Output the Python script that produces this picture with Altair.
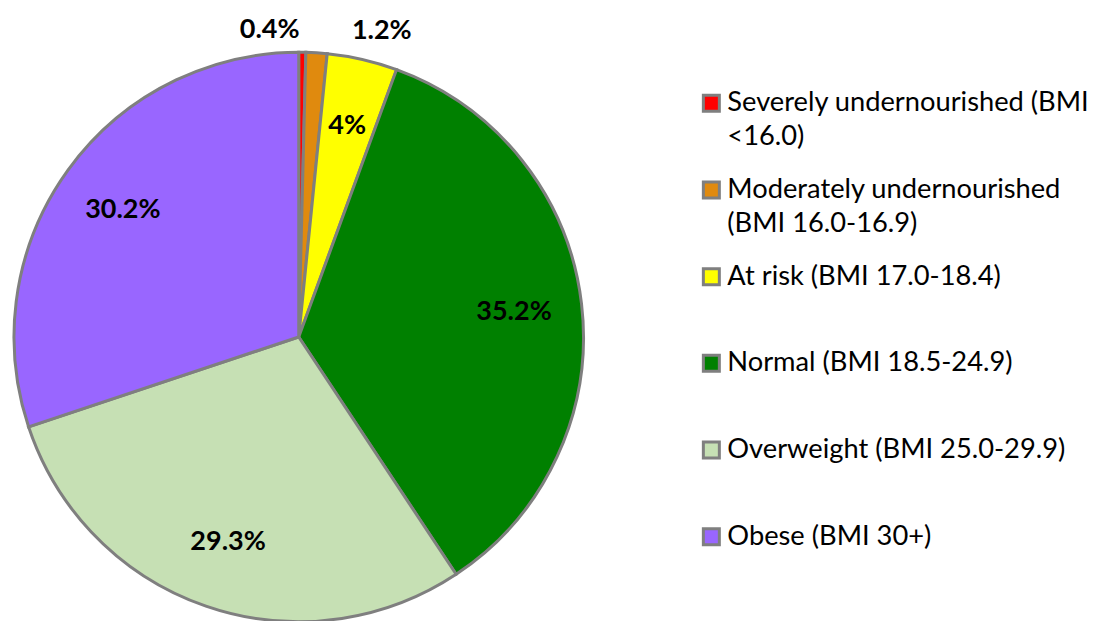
import altair as alt
import pandas as pd

categories = [
    "Severely undernourished (BMI <16.0)",
    "Moderately undernourished (BMI 16.0-16.9)",
    "At risk (BMI 17.0-18.4)",
    "Normal (BMI 18.5-24.9)",
    "Overweight (BMI 25.0-29.9)",
    "Obese (BMI 30+)",
]
values = [0.4, 1.2, 4.0, 35.2, 29.3, 30.2]
labels = ["0.4%", "1.2%", "4%", "35.2%", "29.3%", "30.2%"]
colors = ["#FF0000", "#E08A0E", "#FFFF00", "#008000", "#C6E0B4", "#9966FF"]
legend_line1 = [
    "Severely undernourished (BMI",
    "Moderately undernourished",
    "At risk (BMI 17.0-18.4)",
    "Normal (BMI 18.5-24.9)",
    "Overweight (BMI 25.0-29.9)",
    "Obese (BMI 30+)",
]
legend_line2 = ["<16.0)", "(BMI 16.0-16.9)", "", "", "", ""]

df = pd.DataFrame({
    "category": categories,
    "value": values,
    "label": labels,
    "order": list(range(len(categories))),
    "line1": legend_line1,
    "line2": legend_line2,
})

FONT = "Lato"
GRAY = "#7F7F7F"
color_scale = alt.Scale(domain=categories, range=colors)
theta_scale = alt.Scale(domain=[0, 1])

cx, cy, R = 291, 329, 285

pie_base = (
    alt.Chart(df)
    .transform_window(cum="sum(value)", sort=[alt.SortField("order", order="ascending")], frame=[None, 0])
    .transform_joinaggregate(total="sum(value)")
    .transform_calculate(
        end="datum.cum / datum.total",
        start="(datum.cum - datum.value) / datum.total",
    )
    .transform_calculate(mid="(datum.start + datum.end) / 2")
)

arcs = pie_base.mark_arc(outerRadius=R, stroke=GRAY, strokeWidth=3).encode(
    theta=alt.Theta("start:Q", scale=theta_scale),
    theta2="end:Q",
    x=alt.value(cx),
    y=alt.value(cy),
    color=alt.Color("category:N", scale=color_scale, legend=None),
)

def label_layer(filter_expr, **kw):
    return pie_base.transform_filter(filter_expr).mark_text(
        font=FONT, fontWeight="bold", fontSize=27, color="black", **kw
    ).encode(
        theta=alt.Theta("mid:Q", scale=theta_scale),
        x=alt.value(cx),
        y=alt.value(cy),
        text="label:N",
    )

inner = label_layer("datum.value >= 2", radius=217)
small_a = label_layer("datum.order == 0", radius=307, align="right", dx=-3)
small_b = label_layer("datum.order == 1", radius=307, align="left", dx=34)

pie = alt.layer(arcs, inner, small_a, small_b).properties(width=605, height=611)

ypos = alt.Y("category:N", sort=categories, axis=None,
             scale=alt.Scale(type="point", range=[95, 529], padding=0))

leg_sq = alt.Chart(df).mark_square(size=256, stroke=GRAY, strokeWidth=3, opacity=1).encode(
    y=ypos,
    x=alt.value(99),
    color=alt.Color("category:N", scale=color_scale, legend=None),
)
leg_t1 = alt.Chart(df).mark_text(align="left", baseline="middle", font=FONT, fontSize=27.3,
                                 color="black").encode(
    y=ypos, x=alt.value(115), text="line1:N"
)
leg_t2 = alt.Chart(df).transform_filter("datum.line2 != ''").mark_text(
    align="left", baseline="middle", font=FONT, fontSize=27.3, color="black", dy=34
).encode(
    y=ypos, x=alt.value(115), text="line2:N"
)
legend = alt.layer(leg_sq, leg_t1, leg_t2).properties(width=470, height=611)

chart = (
    alt.hconcat(pie, legend, spacing=0)
    .properties(background="white", padding={"left": 0, "top": 0, "right": 0, "bottom": 0})
    .configure_view(stroke=None)
)

chart.save("out.html", embed_options={"renderer": "svg", "actions": False})
